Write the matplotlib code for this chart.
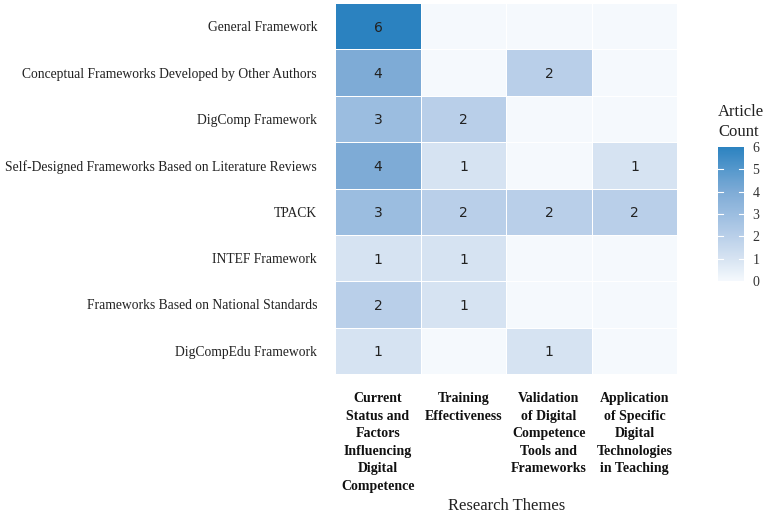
import numpy as np
import matplotlib
matplotlib.use('Agg')
import matplotlib.pyplot as plt
from matplotlib.colors import LinearSegmentedColormap

frameworks = ["General Framework",
              "Conceptual Frameworks Developed by Other Authors",
              "DigComp Framework",
              "Self-Designed Frameworks Based on Literature Reviews",
              "TPACK",
              "INTEF Framework",
              "Frameworks Based on National Standards",
              "DigCompEdu Framework"]
themes = ["Current\nStatus and\nFactors\nInfluencing\nDigital\nCompetence",
          "Training\nEffectiveness",
          "Validation\nof Digital\nCompetence\nTools and\nFrameworks",
          "Application\nof Specific\nDigital\nTechnologies\nin Teaching"]
# article counts, rows = frameworks, cols = themes
counts = [[6, 0, 0, 0],
          [4, 0, 2, 0],
          [3, 2, 0, 0],
          [4, 1, 0, 1],
          [3, 2, 2, 2],
          [1, 1, 0, 0],
          [2, 1, 0, 0],
          [1, 0, 1, 0]]

serif = 'Liberation Serif'
cmap = LinearSegmentedColormap.from_list('blu', ['#f5f9fd', '#d6e3f2', '#b9cfe9', '#9bbde0', '#7eabd6', '#5598cc', '#2b82c0'])

fig = plt.figure(figsize=(7.67, 5.13), dpi=100)
ax = fig.add_axes([0.437, 0.271, 0.446, 0.723])
z = np.array(counts)
mesh = ax.pcolormesh(np.arange(5), np.arange(9), z, cmap=cmap, vmin=0, vmax=6,
                     edgecolors='white', linewidth=0.5)
ax.set_xlim(0, 4)
ax.set_ylim(8, 0)
for i in range(len(frameworks)):
    for j in range(len(themes)):
        if z[i, j] > 0:
            ax.text(j + 0.5, i + 0.5, str(z[i, j]), ha='center', va='center_baseline',
                    fontsize=10, color='#222222')

ax.set_yticks(np.arange(8) + 0.5)
ax.set_yticklabels(frameworks, fontsize=9.85, family=serif, color='#222222')
ax.set_xticks(np.arange(4) + 0.5)
ax.set_xticklabels(themes, fontsize=10, family=serif, fontweight='bold',
                   va='top', ha='center', color='#111111', linespacing=1.45)
ax.tick_params(axis='y', length=0, pad=13)
ax.tick_params(axis='x', length=0, pad=13)
for s in ax.spines.values():
    s.set_visible(False)
ax.set_xlabel("Research Themes", fontsize=12, family=serif, color='#222222', labelpad=4)

cax = fig.add_axes([0.936, 0.452, 0.034, 0.262])
cb = fig.colorbar(mesh, cax=cax, ticks=range(7))
cb.outline.set_visible(False)
cb.ax.tick_params(length=0, labelsize=10, pad=6)
for t in cb.ax.get_yticklabels():
    t.set_family(serif)
    t.set_color('#333333')
for v in range(1, 6):
    cax.plot([0, 0.2], [v, v], color='white', lw=0.8)
    cax.plot([0.8, 1], [v, v], color='white', lw=0.8)
fig.text(0.936, 0.728, "Article\nCount", fontsize=12, family=serif, ha='left', va='bottom',
         color='#222222', linespacing=1.3)

fig.savefig('out.png', dpi=100)
